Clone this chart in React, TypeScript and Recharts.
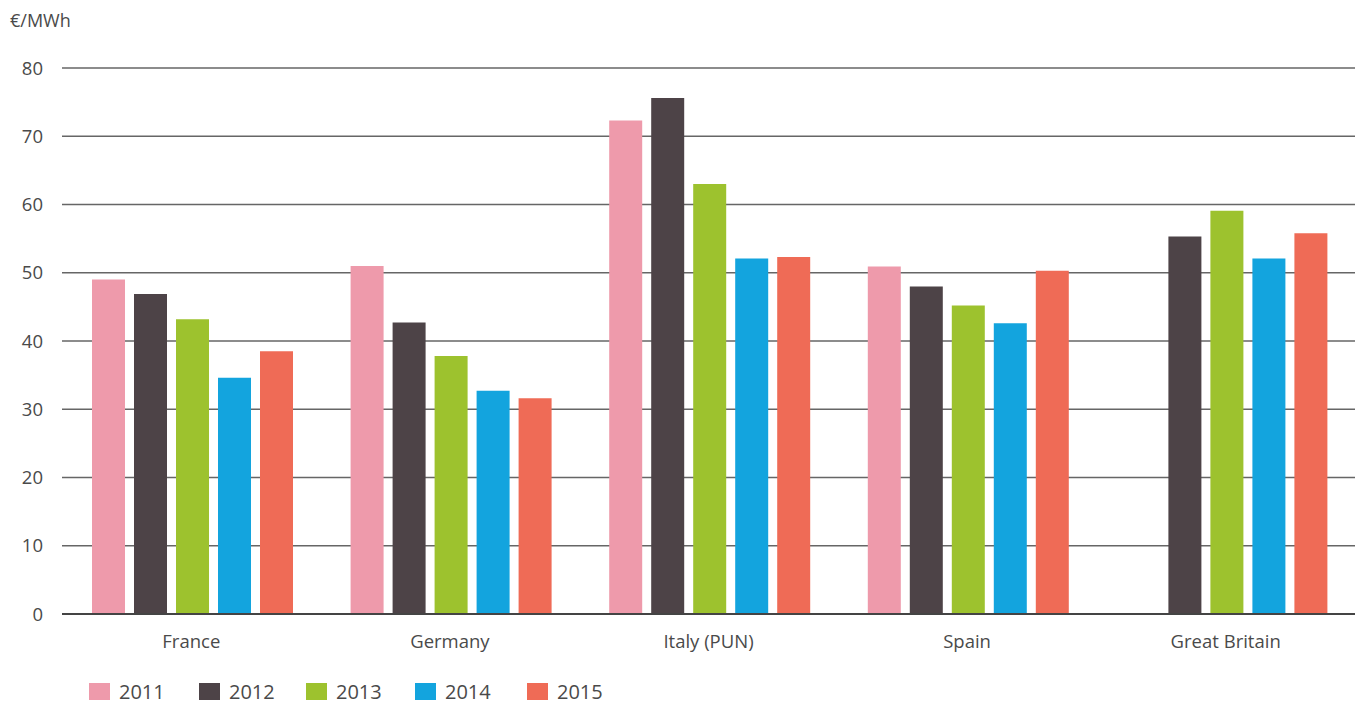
import React from 'react';
import { BarChart, Bar, XAxis, YAxis, CartesianGrid, Legend } from 'recharts';

const categories = ['France', 'Germany', 'Italy (PUN)', 'Spain', 'Great Britain'];
const years = ['2011', '2012', '2013', '2014', '2015'];
const v2011: (number | null)[] = [49.0, 51.0, 72.3, 50.9, null];
const v2012: (number | null)[] = [46.9, 42.7, 75.6, 48.0, 55.3];
const v2013: (number | null)[] = [43.2, 37.8, 63.0, 45.2, 59.1];
const v2014: (number | null)[] = [34.6, 32.7, 52.1, 42.6, 52.1];
const v2015: (number | null)[] = [38.5, 31.6, 52.3, 50.3, 55.8];
const yTicks = [0, 10, 20, 30, 40, 50, 60, 70, 80];
const colors = ['#ee9aab', '#4d4347', '#9dc22e', '#13a4de', '#ef6b56'];

const series = [v2011, v2012, v2013, v2014, v2015];
const data = categories.map((c, i) => {
  const row: Record<string, string | number | null> = { name: c };
  years.forEach((y, j) => {
    row[y] = series[j][i];
  });
  return row;
});

const FONT = '"Open Sans", sans-serif';

const LegendContent = () => (
  <div style={{ position: 'relative', width: 600, height: 28, fontFamily: FONT }}>
    {years.map((y, i) => (
      <div
        key={y}
        style={{
          position: 'absolute',
          left: [0, 110, 217, 326, 438][i],
          top: 0,
          height: 28,
          display: 'flex',
          alignItems: 'center',
        }}
      >
        <div style={{ width: 21, height: 17, background: colors[i] }} />
        <span style={{ marginLeft: 9, fontSize: 20, color: '#4a4a4a' }}>{y}</span>
      </div>
    ))}
  </div>
);

export default function App() {
  return (
    <BarChart
      width={1347}
      height={699}
      data={data}
      margin={{ top: 60, right: 0, bottom: 63, left: 0 }}
      barCategoryGap={30}
      barGap={9}
    >
      <CartesianGrid horizontal vertical={false} stroke="#666" strokeWidth={1.3} />
      <XAxis
        dataKey="name"
        height={30}
        tickLine={false}
        tickSize={0}
        tickMargin={21}
        axisLine={{ stroke: '#444', strokeWidth: 2 }}
        tick={{ fontSize: 18.5, fill: '#4a4a4a', fontFamily: FONT }}
        interval={0}
      />
      <YAxis
        width={54}
        domain={[0, 80]}
        ticks={yTicks}
        interval={0}
        axisLine={false}
        tickLine={false}
        tickSize={0}
        tickMargin={19}
        tick={{ fontSize: 18.5, fill: '#4a4a4a', fontFamily: FONT }}
        label={() => (
          <text x={2} y={19} fontSize={18} fill="#4a4a4a" fontFamily={FONT}>
            €/MWh
          </text>
        )}
      />
      <Legend
        layout="vertical"
        align="center"
        verticalAlign="middle"
        wrapperStyle={{ left: 81, top: 669, width: 600 }}
        content={<LegendContent />}
      />
      {years.map((y, i) => (
        <Bar key={y} dataKey={y} fill={colors[i]} isAnimationActive={false} />
      ))}
    </BarChart>
  );
}
